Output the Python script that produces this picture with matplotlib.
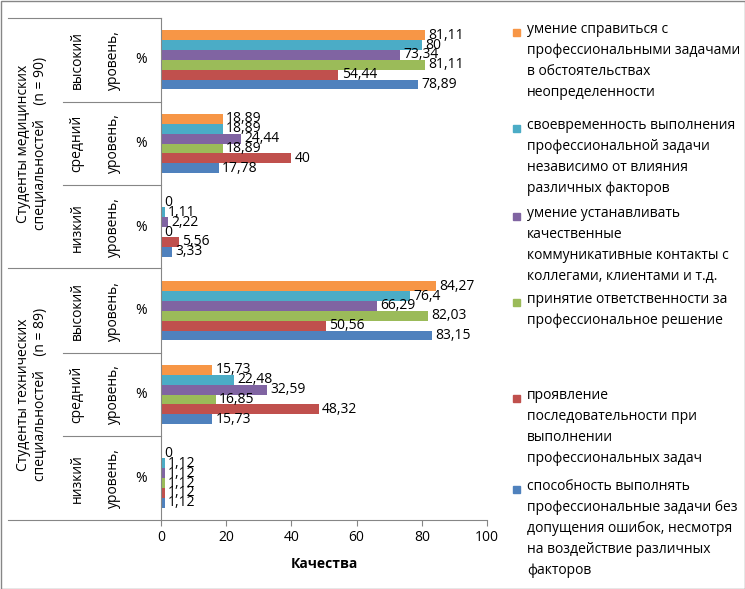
import matplotlib
matplotlib.use("Agg")
import matplotlib.pyplot as plt
import numpy as np

plt.rcParams['font.family'] = ['Open Sans', 'DejaVu Sans']

series_labels = [
    "умение справиться с\nпрофессиональными задачами\nв обстоятельствах\nнеопределенности",
    "своевременность выполнения\nпрофессиональной задачи\nнезависимо от влияния\nразличных факторов",
    "умение устанавливать\nкачественные\nкоммуникативные контакты с\nколлегами, клиентами и т.д.",
    "принятие ответственности за\nпрофессиональное решение",
    "проявление\nпоследовательности при\nвыполнении\nпрофессиональных задач",
    "способность выполнять\nпрофессиональные задачи без\nдопущения ошибок, несмотря\nна воздействие различных\nфакторов",
]
colors = ["#F79646", "#4BACC6", "#8064A2", "#9BBB59", "#C0504D", "#4F81BD"]
# groups top to bottom; each row: orange, teal, purple, green, red, blue
groups = ["мед высокий", "мед средний", "мед низкий", "тех высокий", "тех средний", "тех низкий"]
values = [
    [81.11, 80, 73.34, 81.11, 54.44, 78.89],
    [18.89, 18.89, 24.44, 18.89, 40, 17.78],
    [0, 1.11, 2.22, 0, 5.56, 3.33],
    [84.27, 76.4, 66.29, 82.03, 50.56, 83.15],
    [15.73, 22.48, 32.59, 16.85, 48.32, 15.73],
    [0, 1.12, 1.12, 1.12, 1.12, 1.12],
]
level_words = ["высокий", "средний", "низкий"] * 2
outer_labels = ["Студенты медицинских\nспециальностей    (n = 90)",
                "Студенты технических\nспециальностей    (n = 89)"]

W, H = 745, 589
fig = plt.figure(figsize=(W/100, H/100), dpi=100)
ax = fig.add_axes([161/W, 1-520/H, (487-161)/W, (520-18)/H])

n = len(groups)
bh = 0.118
for gi, row in enumerate(values):
    center = n - 1 - gi + 0.5
    for si, v in enumerate(row):
        y = center + (2.5 - si) * bh
        ax.barh(y, v, height=bh, color=colors[si], edgecolor='none')
        ax.text(v + 1, y, f"{v:g}".replace('.', ','), va='center', ha='left', fontsize=10)

ax.set_xlim(0, 100)
ax.set_ylim(0, n)
ax.set_yticks(range(n + 1))
ax.set_yticklabels([])
ax.tick_params(axis='y', length=0)
ax.set_xticks(range(0, 101, 20))
ax.tick_params(axis='x', labelsize=10, length=4, color='#868686')
for s in ['top', 'right']:
    ax.spines[s].set_visible(False)
for s in ['left', 'bottom']:
    ax.spines[s].set_color('#868686')
ax.set_xlabel("Качества", fontsize=10, fontweight='bold', labelpad=8)

# category label table on the left
def fx(px): return px / W
def fy(py): return 1 - py / H
lc = '#868686'
fig.add_artist(plt.Line2D([fx(8), fx(161)], [fy(18), fy(18)], color=lc, lw=0.8))
fig.add_artist(plt.Line2D([fx(8), fx(161)], [fy(268), fy(268)], color=lc, lw=0.8))
fig.add_artist(plt.Line2D([fx(8), fx(161)], [fy(520), fy(520)], color=lc, lw=0.8))
row_h = (520 - 18) / 6
for k in [1, 2, 4, 5]:
    yy = 18 + k * row_h
    fig.add_artist(plt.Line2D([fx(63), fx(161)], [fy(yy), fy(yy)], color=lc, lw=0.8))
for gi in range(6):
    cy = 18 + (gi + 0.5) * row_h
    fig.text(fx(77), fy(cy), level_words[gi], rotation=90, ha='center', va='center', fontsize=10)
    fig.text(fx(113), fy(cy), "уровень,", rotation=90, ha='center', va='center', fontsize=10)
    fig.text(fx(141), fy(cy), "%", ha='center', va='center', fontsize=10)
for oi in range(2):
    cy = 18 + (oi * 3 + 1.5) * row_h
    fig.text(fx(32), fy(cy), outer_labels[oi], rotation=90, ha='center', va='center',
             fontsize=10, multialignment='center', linespacing=1.2)

# legend
leg_y = [32, 128, 216, 302, 398, 489]
for i, (lab, c) in enumerate(zip(series_labels, colors)):
    fig.add_artist(plt.Rectangle((fx(513), fy(leg_y[i] + 4)), 7/W, 7/H, color=c))
    fig.text(fx(527), fy(leg_y[i] - 10), lab, ha='left', va='top', fontsize=10, linespacing=1.55)

fig.add_artist(plt.Rectangle((0.5/W, 0.5/H), 1 - 1/W, 1 - 1/H, fill=False, ec='#868686', lw=1))
fig.savefig("out.png", dpi=100)
